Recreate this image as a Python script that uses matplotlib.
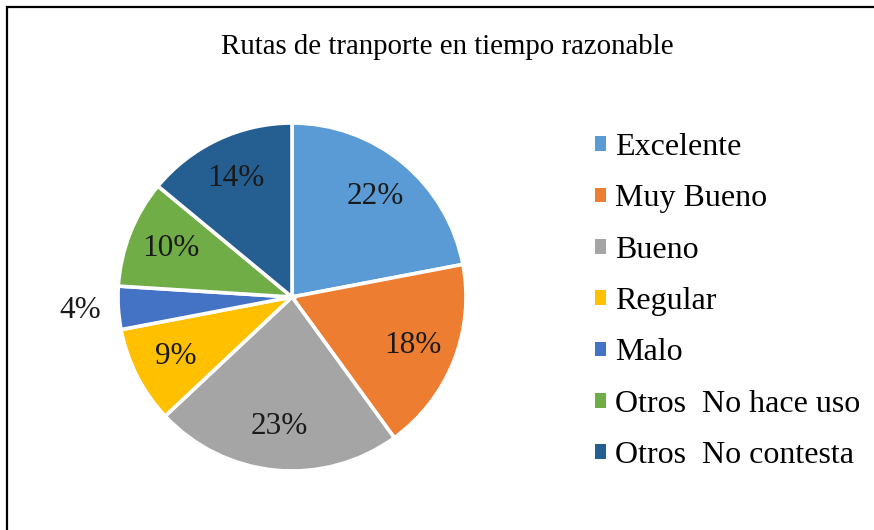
import numpy as np
import matplotlib.pyplot as plt
from matplotlib.patches import Rectangle, Patch

# Datos del gráfico
categorias = ['Excelente', 'Muy Bueno', 'Bueno', 'Regular', 'Malo',
              'Otros  No hace uso', 'Otros  No contesta']
porcentajes = [22, 18, 23, 9, 4, 10, 14]
colores = ['#5B9BD5', '#ED7D31', '#A5A5A5', '#FFC000', '#4472C4', '#70AD47', '#255E91']

plt.rcParams['font.family'] = ['Liberation Serif', 'DejaVu Serif']

fig = plt.figure(figsize=(8.74, 5.30), dpi=100)

# Marco del gráfico
fig.patches.append(Rectangle((7 / 874, -0.05), 1.0, (530 - 7) / 530 + 0.05,
                             transform=fig.transFigure, fill=False,
                             edgecolor='black', linewidth=1.6))

fig.text(447 / 874, 1 - 47 / 530, 'Rutas de tranporte en tiempo razonable',
         ha='center', va='center', fontsize=20.8)

ax = fig.add_axes([118 / 874, 59 / 530, 348 / 874, 348 / 530])
wedges, textos = ax.pie(porcentajes, colors=colores, startangle=90, counterclock=False,
                        wedgeprops=dict(edgecolor='white', linewidth=2.6))
ax.set_xlim(-1, 1)
ax.set_ylim(-1, 1)
ax.set_aspect('equal')

# Etiquetas de porcentaje
acum = np.cumsum([0] + porcentajes[:-1])
for i, p in enumerate(porcentajes):
    ang = np.deg2rad(90 - (acum[i] + p / 2) * 3.6)
    r = 1.22 if i == 4 else 0.75
    ax.text(r * np.cos(ang), r * np.sin(ang), f'{p}%', ha='center', va='center',
            fontsize=22.5, color='#1a1a1a', clip_on=False)

handles = [Patch(facecolor=c) for c in colores]
fig.legend(handles, categorias, loc='upper left', bbox_to_anchor=(579 / 874, 1 - 117 / 530),
           frameon=False, fontsize=23, handlelength=0.33, handleheight=0.33,
           handletextpad=0.3, labelspacing=0.7, borderpad=0)

plt.savefig('out.png', dpi=100)
